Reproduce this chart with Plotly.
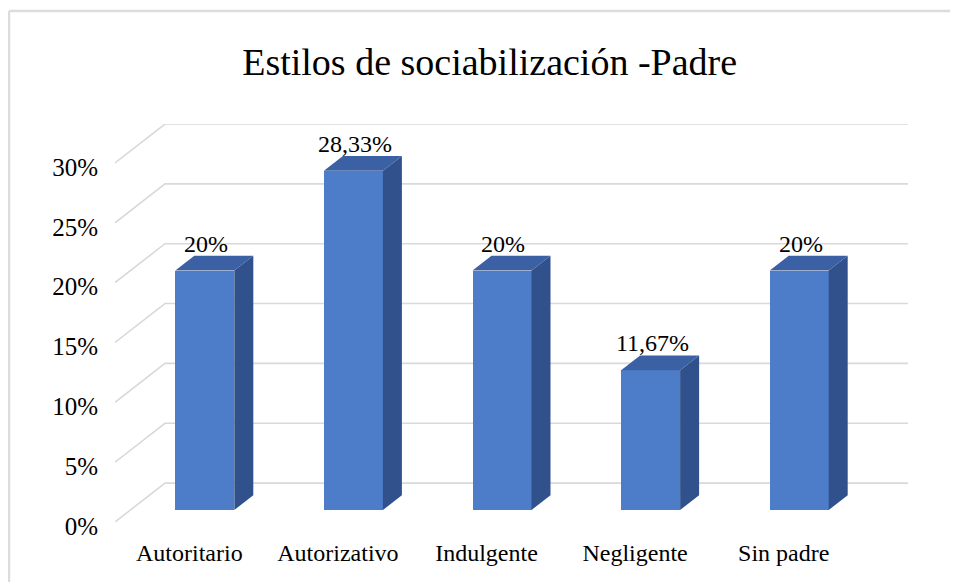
import plotly.graph_objects as go

categories = ["Autoritario", "Autorizativo", "Indulgente", "Negligente", "Sin padre"]
values = [20, 28.33, 20, 11.67, 20]
value_labels = ["20%", "28,33%", "20%", "11,67%", "20%"]
tick_values = [0, 5, 10, 15, 20, 25, 30]
tick_labels = ["0%", "5%", "10%", "15%", "20%", "25%", "30%"]

FONT = "Liberation Serif"
FRONT = "#4d7cc9"
SIDE = "#30518b"
TOP = "#3b61a4"
GRID = "#d9d9d9"

# pseudo-3D depth (in data units)
DX = 0.3365   # horizontal depth shift (category units)
DY = 3.25     # vertical depth shift (percentage units)
T0, T1 = 0.31, 0.69   # bar depth span
W = 0.397             # bar width

fig = go.Figure()

shapes = []
for v in tick_values:
    shapes.append(dict(type="path", xref="x", yref="y", layer="below",
                       path=f"M {-0.5},{v} L {-0.5+DX},{v+DY} L {len(categories)-0.5+DX},{v+DY}",
                       line=dict(color=GRID, width=1.6)))

# border frame (top and left edges only)
shapes.append(dict(type="line", xref="paper", yref="paper", layer="below",
                   x0=-0.1337, x1=1.15, y0=1.284, y1=1.284,
                   line=dict(color="#dcdcdc", width=2.5)))
shapes.append(dict(type="line", xref="paper", yref="paper", layer="below",
                   x0=-0.1337, x1=-0.1337, y0=-0.4, y1=1.284,
                   line=dict(color="#dcdcdc", width=2.5)))

sx0, sy0 = T0 * DX, T0 * DY
ddx, ddy = (T1 - T0) * DX, (T1 - T0) * DY
xs = [i + sx0 for i in range(len(categories))]

fig.add_trace(go.Bar(x=xs, y=values, base=[sy0] * len(values), width=W,
                     marker=dict(color=FRONT, line=dict(width=0)),
                     hoverinfo="skip", showlegend=False))

for i, v in enumerate(values):
    xl = xs[i] - W / 2
    xr = xs[i] + W / 2
    yb = sy0
    yt = sy0 + v
    fig.add_trace(go.Scatter(x=[xr, xr + ddx, xr + ddx, xr, xr],
                             y=[yb, yb + ddy, yt + ddy, yt, yb],
                             fill="toself", fillcolor=SIDE, mode="lines",
                             line=dict(width=0, color=SIDE),
                             hoverinfo="skip", showlegend=False))
    fig.add_trace(go.Scatter(x=[xl, xr, xr + ddx, xl + ddx, xl],
                             y=[yt, yt, yt + ddy, yt + ddy, yt],
                             fill="toself", fillcolor=TOP, mode="lines",
                             line=dict(width=0, color=TOP),
                             hoverinfo="skip", showlegend=False))

annotations = []
for i, v in enumerate(values):
    annotations.append(dict(x=xs[i] + 0.01, y=sy0 + v + ddy, text=value_labels[i],
                            xref="x", yref="y", showarrow=False,
                            yanchor="bottom", yshift=-3,
                            font=dict(family=FONT, size=24, color="#000000")))

fig.update_layout(
    width=950, height=574,
    margin=dict(l=107, r=50, t=116, b=60),
    paper_bgcolor="white", plot_bgcolor="white",
    title=dict(text="Estilos de sociabilización -Padre", x=0.507, xref="container",
               y=1 - 54 / 574, yref="container", xanchor="center", yanchor="middle",
               font=dict(family=FONT, size=38, color="#000000")),
    xaxis=dict(range=[-0.5, len(categories) - 0.5 + DX], tickvals=list(range(len(categories))),
               ticktext=categories, showgrid=False, zeroline=False, showline=False,
               ticks="", ticklabelstandoff=14,
               tickfont=dict(family=FONT, size=24, color="#000000"), fixedrange=True),
    yaxis=dict(range=[0, 30 + DY], tickvals=tick_values, ticktext=tick_labels,
               showgrid=False, zeroline=False, showline=False, ticks="",
               ticklabelstandoff=16, ticklabelshift=4,
               tickfont=dict(family=FONT, size=25, color="#000000"), fixedrange=True),
    shapes=shapes,
    annotations=annotations,
    bargap=0,
)

fig.write_html("out.html")
